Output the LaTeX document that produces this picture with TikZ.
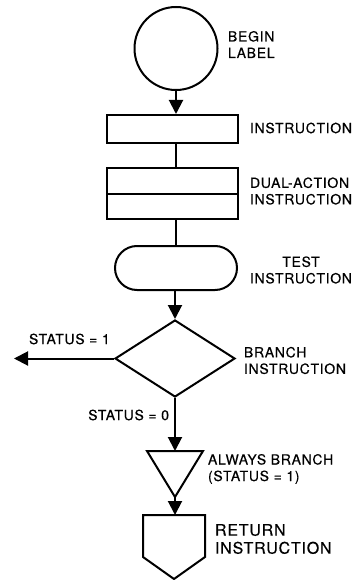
\documentclass[tikz,border=0pt]{standalone}
\usepackage{fontspec}
\setmainfont{TeX Gyre Heros}[LetterSpace=5,FakeBold=0.4]
\usetikzlibrary{arrows.meta,shapes.geometric,shapes.misc}
\begin{document}
\begin{tikzpicture}[x=1pt,y=-1pt,
  every path/.style={line width=2pt},
  box/.style={draw,line width=2pt,inner sep=0pt,minimum width=131pt},
  lbl/.style={inner sep=0pt,align=left,font=\fontsize{14}{16.5}\selectfont},
  arr/.style={-{Triangle[width=14pt,length=14pt]}},
  line join=miter]
\useasboundingbox (0,0) rectangle (358,580);
% shapes
\node[draw,circle,line width=2pt,minimum size=83pt,inner sep=0pt] (begin) at (176,48.5) {};
\node[box,minimum height=28pt] (instr) at (172.5,129) {};
\node[box,minimum height=51pt] (dual) at (172.5,193.5) {};
\draw (dual.west) -- (dual.east);
\node[draw,line width=2pt,rounded rectangle,rounded rectangle arc length=180,minimum width=122pt,minimum height=44pt,inner sep=0pt] (test) at (176,268) {};
\node[draw,line width=2pt,diamond,minimum width=120pt,minimum height=77pt,inner sep=0pt] (branch) at (175,358.5) {};
\coordinate (t1) at (147,451);
\coordinate (t2) at (203,451);
\coordinate (ttop) at (175,451);
\coordinate (tapex) at (175,497);
\draw (t1) -- (t2) -- (tapex) -- cycle;
\coordinate (ptop) at (174,515);
\coordinate (pbot) at (174,579);
\draw (143,515) -- (205,515) -- (205,557) -- (pbot) -- (143,557) -- cycle;
\coordinate (leftend) at (14,358.5);
% connectors
\draw[arr] (begin.south) -- (begin.south |- instr.north);
\draw (instr.south -| begin.south) -- (dual.north -| begin.south);
\draw (dual.south -| begin.south) -- (test.north -| begin.south);
\draw[arr] (test.south -| branch.north) -- (branch.north);
\draw[arr] (branch.south) -- (ttop);
\draw[arr] (tapex) -- (tapex |- ptop);
\draw[arr] (branch.west) -- (leftend);
% labels
\node[lbl,anchor=west] (lbegin) at (227,44.5) {BEGIN\\LABEL};
\node[lbl,anchor=west] (linstr) at (249,128) {INSTRUCTION};
\node[lbl,anchor=west] (ldual) at (249,191) {DUAL-ACTION\\INSTRUCTION};
\node[lbl,align=center] (ltest) at (301,270) {TEST\\INSTRUCTION};
\node[lbl,anchor=west] (ls1) at (28,339) {STATUS = 1};
\node[lbl,anchor=west] (lbranch) at (243,360.5) {BRANCH\\INSTRUCTION};
\node[lbl,anchor=east] (ls0) at (170,415) {STATUS = 0};
\node[lbl,anchor=west] (lalways) at (207,469) {ALWAYS BRANCH\\(STATUS = 1)};
\node[lbl,anchor=west,font=\fontsize{16}{18}\selectfont] (lret) at (214,539) {RETURN\\INSTRUCTION};
\end{tikzpicture}
\end{document}
